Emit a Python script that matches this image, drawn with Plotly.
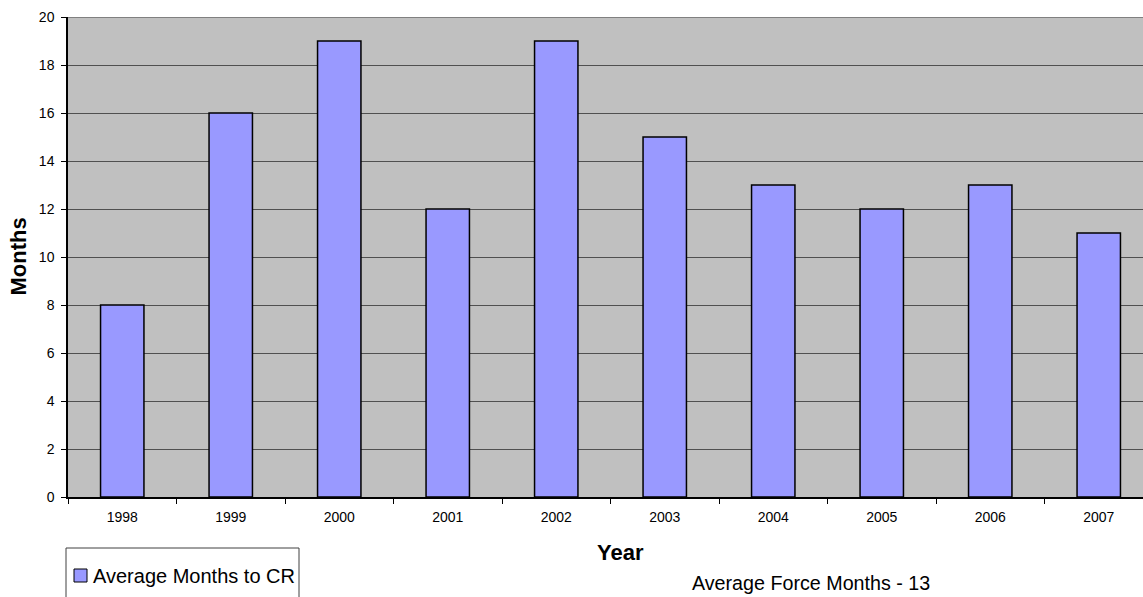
import plotly.graph_objects as go

# Data
years = ["1998", "1999", "2000", "2001", "2002", "2003", "2004", "2005", "2006", "2007"]
avg_months_to_cr = [8, 16, 19, 12, 19, 15, 13, 12, 13, 11]
series_name = "Average Months to CR"
y_ticks = [0, 2, 4, 6, 8, 10, 12, 14, 16, 18, 20]
footnote = "Average Force Months - 13"

W, H = 1143, 597
ML, MR, MT, MB = 68, 0, 17, 100
PW, PH = W - ML - MR, H - MT - MB

FONT = "Arial, Liberation Sans, sans-serif"
BAR_FILL = "#9999FF"


def px_x(x):
    return (x - ML) / PW


def px_y(y):
    return (H - MB - y) / PH


fig = go.Figure()
fig.add_trace(go.Bar(
    x=years, y=avg_months_to_cr, name=series_name,
    width=0.4, showlegend=False,
    marker=dict(color=BAR_FILL, line=dict(color="black", width=1.5)),
))

fig.update_layout(
    width=W, height=H,
    margin=dict(l=ML, r=MR, t=MT, b=MB, pad=0, autoexpand=False),
    paper_bgcolor="white", plot_bgcolor="#C0C0C0",
    font=dict(family=FONT, color="black"),
    bargap=0.6,
)

fig.update_xaxes(
    type="category", range=[-0.5, -0.5 + PW / 108.5],
    showline=True, linecolor="black", linewidth=1.5,
    ticks="outside", tickson="boundaries", ticklen=5, tickcolor="black", tickwidth=1,
    tickfont=dict(size=14, family=FONT, color="black"),
    ticklabelstandoff=6, showgrid=False, zeroline=False,
)
fig.update_yaxes(
    range=[0, 20], tickvals=y_ticks,
    showline=True, linecolor="black", linewidth=1.5,
    ticks="outside", ticklen=5, tickcolor="black", tickwidth=1,
    tickfont=dict(size=14, family=FONT, color="black"),
    ticklabelstandoff=4,
    showgrid=True, gridcolor="#505050", gridwidth=1, zeroline=False,
)

# top border of plotting area
fig.add_shape(type="line", xref="paper", yref="y", x0=0, x1=1, y0=20, y1=20,
              line=dict(color="#808080", width=2))

annotations = [
    dict(text="<b>Year</b>", x=px_x(621), y=px_y(552), xanchor="center", yanchor="middle",
         font=dict(size=22, family=FONT)),
    dict(text="<b>Months</b>", x=px_x(17.5), y=px_y(257), xanchor="center", yanchor="middle",
         textangle=-90, font=dict(size=22, family=FONT)),
    dict(text=footnote, x=px_x(690), y=px_y(582.5), xanchor="left", yanchor="middle",
         font=dict(size=19.7, family=FONT)),
    dict(text=series_name, x=px_x(91), y=px_y(575.5), xanchor="left", yanchor="middle",
         font=dict(size=20, family=FONT)),
]
for a in annotations:
    fig.add_annotation(xref="paper", yref="paper", showarrow=False, **a)

# legend frame and swatch
fig.add_shape(type="rect", xref="paper", yref="paper",
              x0=px_x(66), x1=px_x(299), y0=px_y(548), y1=px_y(620),
              line=dict(color="#404040", width=1), fillcolor="rgba(0,0,0,0)")
fig.add_shape(type="rect", xref="paper", yref="paper",
              x0=px_x(74), x1=px_x(87), y0=px_y(569), y1=px_y(582),
              line=dict(color="black", width=1), fillcolor=BAR_FILL)

fig.write_html("out.html")
